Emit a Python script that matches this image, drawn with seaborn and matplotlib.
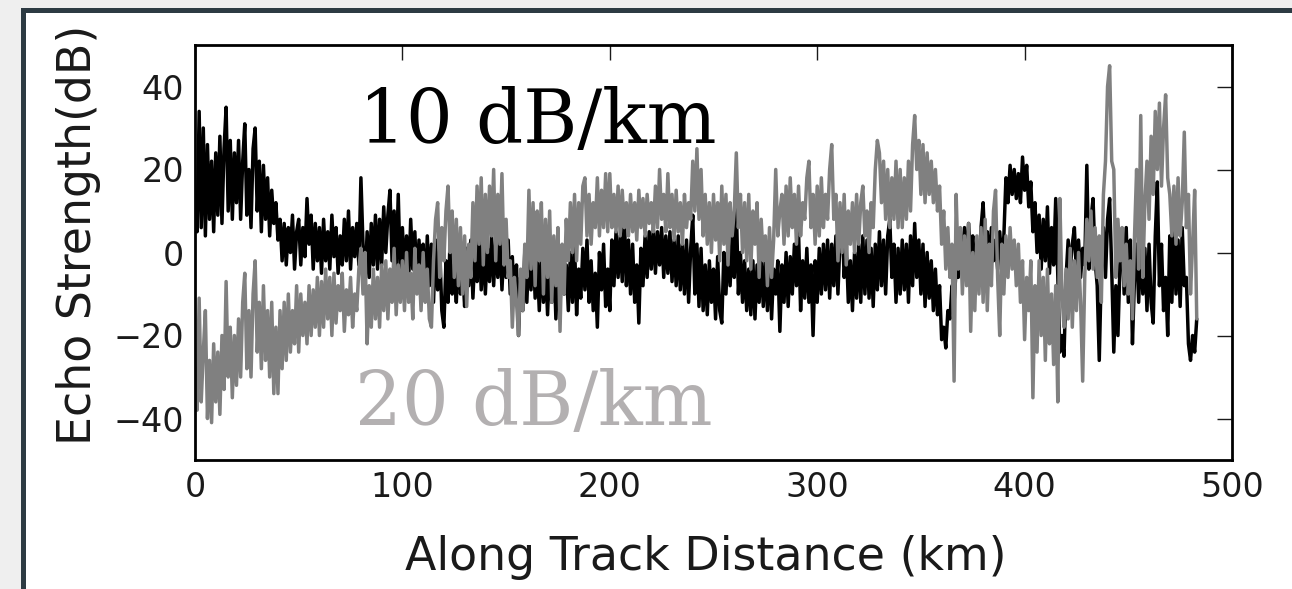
import numpy as np
import pandas as pd
import matplotlib
matplotlib.use("Agg")
import matplotlib.pyplot as plt
import seaborn as sns
from matplotlib.patches import Rectangle

# Echo strength (dB) every 1 km along track (20 km per row)
echo_10 = [
    14, 5, 34, 6, 30, 4, 26, 8, 22, 5, 24, 9, 28, 7, 25, 35, 10, 27, 8, 24,
    12, 27, 8, 22, 31, 9, 20, 6, 25, 30, 10, 22, 5, 21, 8, 18, 4, 15, 7, 12,
    3, 8, -2, 7, -3, 6, 0, 9, -4, 5, 8, -3, 6, -1, 13, 2, 9, -4, 7, -2,
    6, -5, 8, -2, 5, -4, 9, -1, 6, -5, 4, -3, 8, -2, 10, -4, 6, -1, 7, -3,
    18, 2, -8, 5, -6, 7, -3, 9, -4, 8, -3, 11, 0, 9, 15, -2, 10, -4, 14, -5,
    6, -5, 4, -7, 8, -4, 5, -8, 3, -6, 2, -10, 4, -8, 2, -12, 3, -9, 1, -14,
    -18, -2, -12, 3, -10, -3, -12, 2, -10, -4, -13, 1, -8, 3, -11, 0, -7, 4, -9, 2,
    -10, 1, -7, 4, -8, 3, -6, 4, -9, 2, -6, 3, -10, -1, -12, -3, -20, -6, -14, 0,
    -12, 1, -9, 2, -11, -2, -14, 0, -12, -3, -15, -1, -12, 0, -16, -4, -13, 1, -10, -3,
    -14, 0, -12, 2, -15, -4, -11, 1, -9, 3, -12, -2, -14, -5, -18, 0, -9, 2, -13, -4,
    -14, 3, -8, 5, -6, 4, -7, 9, -8, 3, -10, 2, -12, -3, -17, 1, -8, 4, -6, 5,
    -4, 6, -5, 5, -3, 6, -6, 4, -5, 5, -7, 3, -8, 4, -9, 2, -10, 3, -12, 1,
    9, -10, 2, -13, 1, -14, -3, -15, -2, -12, -4, -16, -1, -14, -17, 0, -10, 2, -8, 4,
    -6, 11, -10, 0, -12, -2, -14, -4, -15, -2, -16, -3, -12, -1, -13, -2, -14, 0, -16, -4,
    -10, -2, -19, -3, -12, 0, -13, -1, -10, 2, -8, 5, -14, -2, -11, 1, -12, -3, -20, -2,
    -12, 1, -10, 2, -9, 3, -11, 2, -8, 4, -10, 3, 8, -6, 2, -12, -2, -14, 0, -11,
    2, -12, 4, -10, 3, -11, 1, -13, 2, -9, 5, -8, 3, -10, 4, 8, -6, 2, -12, 1,
    -10, 3, -9, 2, -12, 4, -8, 7, -6, 3, -10, 2, -13, 0, -11, -2, -14, -4, -15, -8,
    -21, -18, -23, -14, -16, -8, -12, -4, -6, 3, -2, 6, -3, 7, -1, 4, -4, 2, -3, 6,
    12, 0, 5, -3, 6, -2, 3, -4, 5, -2, 4, 18, 12, 21, 14, 20, 13, 19, 12, 23,
    15, 21, 11, 17, 5, 12, 0, 9, -4, 8, -2, 11, -5, 6, -3, 13, -6, -24, -20, -25,
    -6, 3, -4, 2, 6, -5, 3, -6, 1, -3, 21, -4, 8, 13, -2, -8, -26, -4, 6, -6,
    8, 13, -4, -24, -8, -20, -3, 4, -10, 6, -12, 3, -22, -6, 2, -12, 3, -10, 1, -14,
    2, -12, -17, 4, 17, -8, 2, -14, -6, -20, 4, -12, 5, -10, 3, -13, 6, -8, -6, -22,
    -26, -20, -24, -16,
]
echo_20 = [
    -28, -38, -11, -36, -24, -14, -40, -26, -41, -22, -36, -24, -39, -20, -33, -7, -30, -18, -35, -20,
    -32, -16, -30, -12, -5, -28, -14, -30, -10, -2, -24, -12, -28, -8, -26, -14, -30, -12, -34, -18,
    -34, -14, -28, -12, -26, -10, -24, -14, -22, -8, -24, -10, -20, -12, -22, -8, -20, -9, -18, -6,
    -20, -7, -18, -4, -16, -6, -20, -5, -17, -8, -14, -5, -19, -9, -15, -6, -18, -10, -14, -4,
    1, -10, 0, -22, -8, -18, -4, -16, -6, -18, -3, -14, -2, -16, -4, -12, 1, -15, -3, -12,
    -2, -14, 0, -12, -5, -16, 1, -10, -3, -14, 0, -12, -4, -16, -18, -2, 8, 12, -6, 6,
    -2, 10, 16, 0, 10, -6, 8, -8, 6, -10, 4, -13, 2, -6, 12, -2, 16, 2, 18, -3,
    14, 0, 16, 4, 20, -2, 14, 2, 19, -3, 8, -6, -2, -18, -6, -12, -20, -4, -14, 2,
    -6, 15, -4, 12, -8, 10, -2, 12, -10, 8, -6, 10, -12, 4, -8, 6, -19, 2, -10, 8,
    -2, 12, 0, 14, -2, 12, 2, 16, 18, 4, 14, 2, 12, 6, 18, 4, 15, 6, 19, 5,
    19, 6, 14, 5, 16, 4, 15, 6, 12, 4, 14, 5, 12, 3, 15, 6, 13, 4, 14, 7,
    12, 5, 16, 6, 20, 8, 14, 5, 19, 6, 14, 3, 15, 5, 12, 2, 14, 6, 12, 8,
    22, 10, 25, 8, 20, 4, 14, 2, 12, 0, 14, 3, 12, -2, 16, 2, 14, -3, 12, 4,
    10, 24, 6, 14, 0, 12, -2, 14, -4, 10, 2, 12, -6, 8, -2, 4, -8, 6, -6, 3,
    20, 4, 10, 14, 2, 16, 4, 18, 6, 14, 2, 16, 4, 12, 8, 18, 22, 6, 14, 2,
    16, 4, 18, 6, 14, 8, 20, 26, 8, 14, -2, 12, 0, 14, -3, 10, 2, 12, 0, 14,
    2, 12, 16, 4, 10, 0, 12, 6, 20, 27, 24, 12, 22, 8, 20, 6, 18, 8, 22, 6,
    20, 6, 18, 8, 22, 10, 26, 33, 20, 27, 14, 26, 12, 24, 14, 22, 12, 20, 10, 16,
    2, 10, -4, 6, -6, 2, -31, 14, -4, 6, -10, 4, -8, 7, -19, 0, -14, 4, -10, 6,
    -12, 8, -14, 2, -8, 10, 15, -6, -20, 2, -10, 4, -6, 6, -4, 3, -8, 2, -12, -2,
    -21, -6, -14, -2, -35, -8, -24, -2, -20, -6, -26, -4, -22, -10, -27, -8, -36, 13, -10, -18,
    -4, -16, 1, -18, -2, -14, 0, -12, -31, -6, 8, -2, 10, -4, 6, -6, 4, -12, 14, 22,
    40, 45, 22, 20, -6, 8, -2, 6, -8, 2, -10, -2, -16, 4, 20, -4, 33, -6, 12, 22,
    8, 28, 14, 34, 20, 36, 16, 30, 38, 18, 14, 4, 16, 2, 18, 4, 12, 29, 6, 14,
    -10, 2, 15, -16,
]
step_km = 1
x_ticks = [0, 100, 200, 300, 400, 500]
y_ticks = [-40, -20, 0, 20, 40]
label_10 = "10 dB/km"
label_20 = "20 dB/km"

df = pd.concat([
    pd.DataFrame({"dist": step_km * np.arange(len(echo_10)), "echo": echo_10, "att": label_10}),
    pd.DataFrame({"dist": step_km * np.arange(len(echo_20)), "echo": echo_20, "att": label_20}),
], ignore_index=True)

sns.set_style("white")
plt.rcParams["font.family"] = ["DejaVu Sans"]

fig = plt.figure(figsize=(12.92, 5.89), dpi=100)
fig.patch.set_facecolor("#efefef")
# white card with dark frame (top & left visible)
card = Rectangle((22.5 / 1292, -0.05), 1.1, 1 - 10 / 589 + 0.05,
                 transform=fig.transFigure, facecolor="white",
                 edgecolor="#2d3b43", linewidth=3.6, zorder=-10)
fig.add_artist(card)

ax = fig.add_axes([195 / 1292, 1 - 460 / 589, (1232 - 195) / 1292, (460 - 45) / 589])
ax.set_zorder(5)
ax.set_facecolor("white")
sns.lineplot(data=df, x="dist", y="echo", hue="att",
             palette={label_10: "#000000", label_20: "#808080"},
             hue_order=[label_10, label_20], legend=False, ax=ax,
             estimator=None, sort=False)
for ln in ax.get_lines():
    ln.set_linewidth(2.5)

ax.set_xlim(0, 500)
ax.set_ylim(-50, 50)
ax.set_xticks(x_ticks)
ax.set_yticks(y_ticks)
ax.set_xticklabels([str(v) for v in x_ticks])
ax.set_yticklabels([("\u2212" + str(-v)) if v < 0 else str(v) for v in y_ticks])
ax.tick_params(direction="in", length=11, width=1.0, top=True, right=True,
               labelsize=24, pad=8, colors="#1a1a1a")
for s in ax.spines.values():
    s.set_visible(True)
    s.set_color("black")
    s.set_linewidth(2.0)

ax.set_xlabel("Along Track Distance (km)", fontsize=33, color="#1a1a1a")
ax.set_ylabel("Echo Strength(dB)", fontsize=33, color="#1a1a1a")
ax.xaxis.set_label_coords(0.493, -0.18)
ax.yaxis.set_label_coords(-0.091, 0.542)

ax.text(79, 26.5, label_10, fontsize=53, family="DejaVu Serif", color="black")
ax.text(77, -41.5, label_20, fontsize=53, family="DejaVu Serif", color="#b3b0b1")

fig.savefig("out.png", dpi=100, facecolor=fig.get_facecolor())
